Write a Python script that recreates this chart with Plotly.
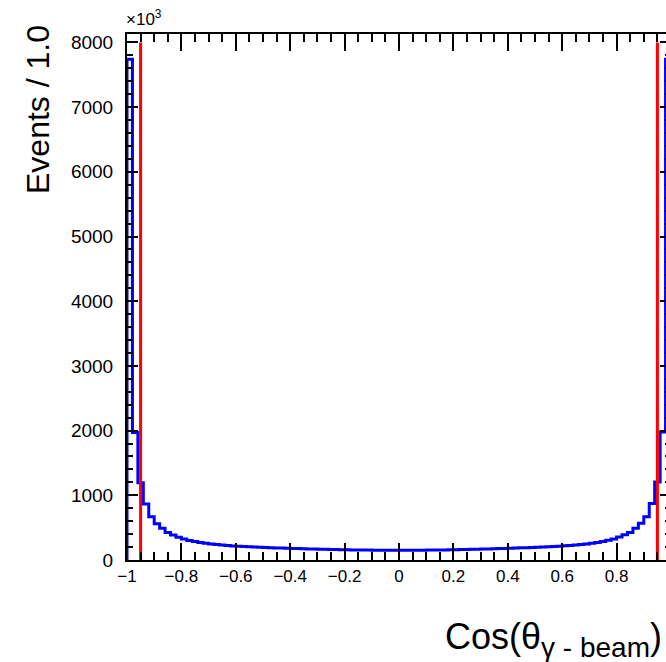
import numpy as np
import plotly.graph_objects as go

# ---- data ----
x_min, x_max, n_bins = -1.0, 1.0, 100
left_half = [7740, 1970, 1195, 865, 670, 560, 490, 425, 388, 352,
             325, 303, 285, 270, 258, 248, 239, 231, 224, 218,
             213, 208, 204, 200, 196, 193, 190, 187, 184, 181,
             178, 176, 173, 171, 169, 167, 165, 163, 161, 159,
             158, 156, 155, 154, 153, 152, 151, 150, 150, 149]
right_half = [149, 150, 150, 151, 152, 153, 154, 155, 156, 158,
              159, 161, 163, 165, 167, 169, 171, 173, 176, 179,
              182, 185, 188, 191, 194, 197, 201, 205, 209, 214,
              219, 225, 232, 240, 249, 259, 271, 286, 304, 326,
              354, 390, 425, 492, 567, 670, 875, 1205, 1980, 7740]
counts = left_half + right_half
cut_values = [-0.95, 0.95]
cut_height = 8000
y_top = 8130

edges = np.linspace(x_min, x_max, n_bins + 1)
hx = [x_min] + list(edges[:-1]) + [x_max]
hy = [0] + counts + [0]

fig = go.Figure()
fig.add_trace(go.Scatter(x=hx, y=hy, mode="lines", line=dict(color="#0000FF", width=3, shape="hv"),
                         showlegend=False, hoverinfo="skip"))
for c in cut_values:
    fig.add_trace(go.Scatter(x=[c, c], y=[0, cut_height], mode="lines",
                             line=dict(color="#FF0000", width=3), showlegend=False, hoverinfo="skip"))

W, H = 700, 662
ml, mr, mt, mb = 127, 29, 34, 102
pw, ph = W - ml - mr, H - mt - mb

def px_x(p):
    return (p - ml) / pw

def px_y(p):
    return (H - mb - p) / ph

tickfont_family = "Liberation Sans, Arial, sans-serif"
fig.update_layout(
    width=W, height=H,
    margin=dict(l=ml, r=mr, t=mt, b=mb),
    plot_bgcolor="white", paper_bgcolor="white",
    xaxis=dict(range=[x_min, x_max], dtick=0.2, tick0=0, ticks="inside", ticklen=17, tickwidth=1.5,
               tickcolor="black", showline=True, linecolor="black", linewidth=2, mirror="ticks",
               showgrid=False, zeroline=False, layer="above traces",
               tickfont=dict(family=tickfont_family, size=17, color="black"),
               minor=dict(dtick=0.05, ticks="inside", ticklen=8, tickwidth=1.5, tickcolor="black")),
    yaxis=dict(range=[0, y_top], dtick=1000, ticks="inside", ticklen=11, tickwidth=1.5,
               tickcolor="black", showline=True, linecolor="black", linewidth=2, mirror="ticks",
               showgrid=False, zeroline=False, layer="above traces", ticklabelstandoff=8,
               tickfont=dict(family=tickfont_family, size=19, color="black"),
               minor=dict(dtick=200, ticks="inside", ticklen=6, tickwidth=1.5, tickcolor="black")),
)

fig.add_annotation(text="Events / 1.0", textangle=-90, xref="paper", yref="paper",
                   x=px_x(38), y=px_y(110), xanchor="center", yanchor="middle", showarrow=False,
                   font=dict(family=tickfont_family, size=32, color="black"))
fig.add_annotation(text="Cos(θ<sub><span style='font-size:28px'>γ - beam</span></sub>)",
                   xref="paper", yref="paper",
                   x=px_x(664), y=px_y(614), xanchor="right", yanchor="top", showarrow=False,
                   font=dict(family=tickfont_family, size=36, color="black"))
fig.add_annotation(text="×10<sup>3</sup>", xref="paper", yref="paper",
                   x=px_x(124), y=px_y(31), xanchor="left", yanchor="bottom", showarrow=False,
                   font=dict(family=tickfont_family, size=17, color="black"))

fig.write_html("out.html",
               post_script="document.documentElement.style.overflow='hidden';document.body.style.overflow='hidden';")
